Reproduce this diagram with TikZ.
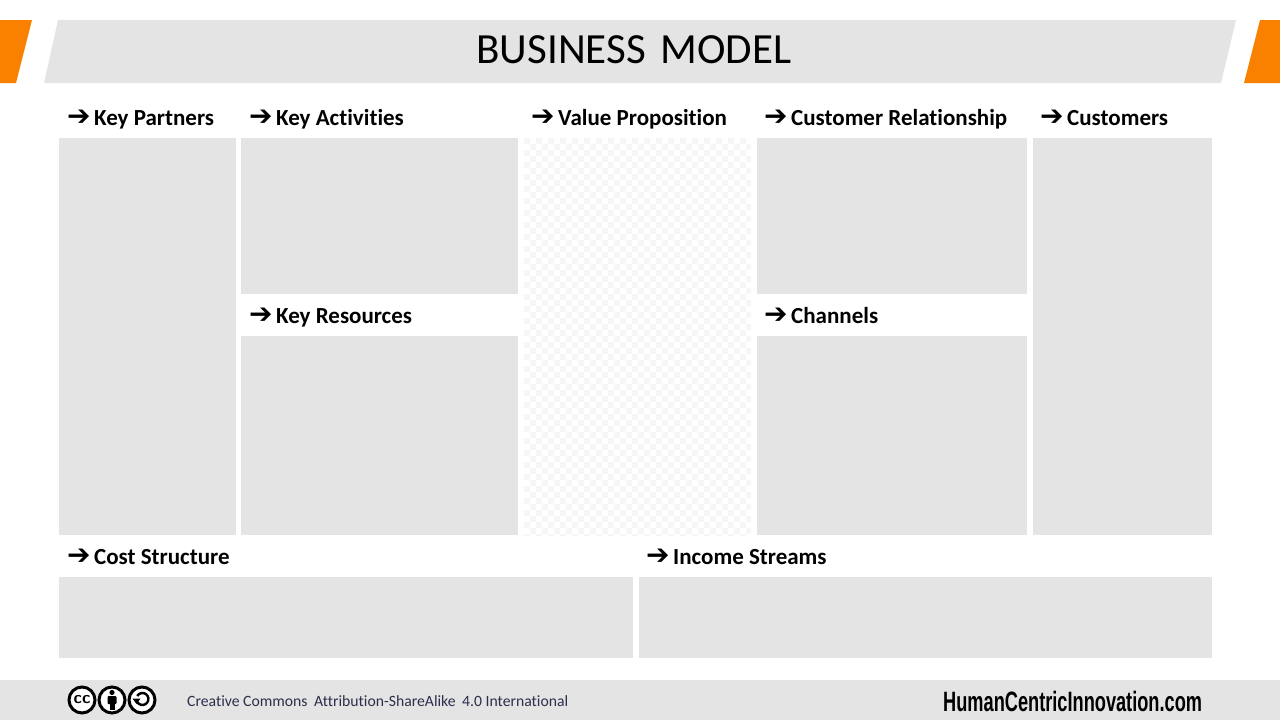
\documentclass[tikz,border=0pt]{standalone}
\usepackage{fontspec}
\setmainfont[Ligatures=NoCommon]{Carlito}
\newfontfamily\arrowfont{DejaVu Sans}
\newfontfamily\siteFont{Liberation Sans}
\definecolor{panelgray}{HTML}{E4E4E4}
\definecolor{checkgray}{HTML}{F6F6F6}
\definecolor{bandorange}{HTML}{FA8000}
\definecolor{footertext}{HTML}{2B2F4A}
\newcommand{\headarrow}{\makebox[27pt][l]{\arrowfont\bfseries\fontsize{28}{28}\selectfont\char"2794}}

\begin{document}
\begin{tikzpicture}
	[x=1pt,y=-1pt,
		panel/.style={fill=panelgray,draw=none,anchor=north west,inner sep=0pt},
		head/.style={anchor=base west,inner sep=0pt,font=\fontsize{23}{23}\selectfont\bfseries},
		badge/.style={circle,draw=black,fill=white,line width=3pt,minimum size=26pt,inner sep=0pt}]

	\useasboundingbox (0,0) rectangle (1280,720);

	% top band
	\fill[bandorange] (0,20) -- (32,20) -- (16,83) -- (0,83) -- cycle;
	\fill[panelgray] (58,20) -- (1236,20) -- (1221,83) -- (44,83) -- cycle;
	\fill[bandorange] (1260,20) -- (1280,20) -- (1280,83) -- (1244,83) -- cycle;
	\node[font=\fontsize{43}{43}\selectfont] (title) at (634,50) {BUSINESS\hspace{5pt} MODEL};

	% canvas
	\node[panel,minimum width=177pt,minimum height=397pt] (partners) at (59,138) {};
	\node[panel,minimum width=277pt,minimum height=156pt] (activities) at (241,138) {};
	\node[panel,minimum width=277pt,minimum height=199pt] (resources) at (241,336) {};
	\node[panel,minimum width=270pt,minimum height=156pt] (relationship) at (757,138) {};
	\node[panel,minimum width=270pt,minimum height=199pt] (channels) at (757,336) {};
	\node[panel,minimum width=179pt,minimum height=397pt] (customers) at (1033,138) {};
	\node[panel,minimum width=574pt,minimum height=81pt] (cost) at (59,577) {};
	\node[panel,minimum width=573pt,minimum height=81pt] (income) at (639,577) {};

	% checkered panel
	\begin{scope}
		\clip (524,138) rectangle (751,535);
		\foreach \i in {0,...,37}
			\foreach \j in {0,...,66}
				{\pgfmathparse{int(mod(\i+\j,2))}
				\ifnum\pgfmathresult=0
					\fill[checkgray] (524+6*\i,138+6*\j) rectangle +(6,6);
				\fi}
	\end{scope}

	% headings
	\node[head] (partnershead) at (67,125) {\headarrow Key Partners};
	\node[head] (activitieshead) at (249,125) {\headarrow Key Activities};
	\node[head] (valuehead) at (531,125) {\headarrow Value Proposition};
	\node[head] (relationshiphead) at (764,125) {\headarrow Customer Relationship};
	\node[head] (customershead) at (1040,125) {\headarrow Customers};
	\node[head] (resourceshead) at (249,323) {\headarrow Key Resources};
	\node[head] (channelshead) at (764,323) {\headarrow Channels};
	\node[head] (costhead) at (67,564) {\headarrow Cost Structure};
	\node[head] (incomehead) at (646,564) {\headarrow Income Streams};

	% footer
	\fill[panelgray] (0,680) rectangle (1280,720);
	\node[badge,font=\fontsize{17}{17}\selectfont\bfseries\sffamily] (ccbadge) at (82,700) {cc};
	\node[badge] (bybadge) at (112,700) {};
	\fill (112,692.5) circle (2.6);
	\fill[rounded corners=1pt] (107.5,696) rectangle (116.5,704);
	\fill (109.5,700) rectangle (114.5,710);
	\node[badge] (sabadge) at (142,700) {};
	\draw[line width=2.4pt] (136.5,700) arc[start angle=170,end angle=-150,radius=6];
	\fill (132.5,698.5) -- (140.5,698.5) -- (136.5,704) -- cycle;
	\node[anchor=base west,inner sep=0pt,text=footertext,font=\fontsize{15.7}{15.7}\selectfont] (license) at (187,706) {Creative Commons\hspace{3pt} Attribution-ShareAlike\hspace{3pt} 4.0 International};
	\node[anchor=base west,inner sep=0pt] (site) at (943,711) {\scalebox{0.65}[1]{\siteFont\bfseries\fontsize{28}{28}\selectfont HumanCentricInnovation.com}};
\end{tikzpicture}
\end{document}
